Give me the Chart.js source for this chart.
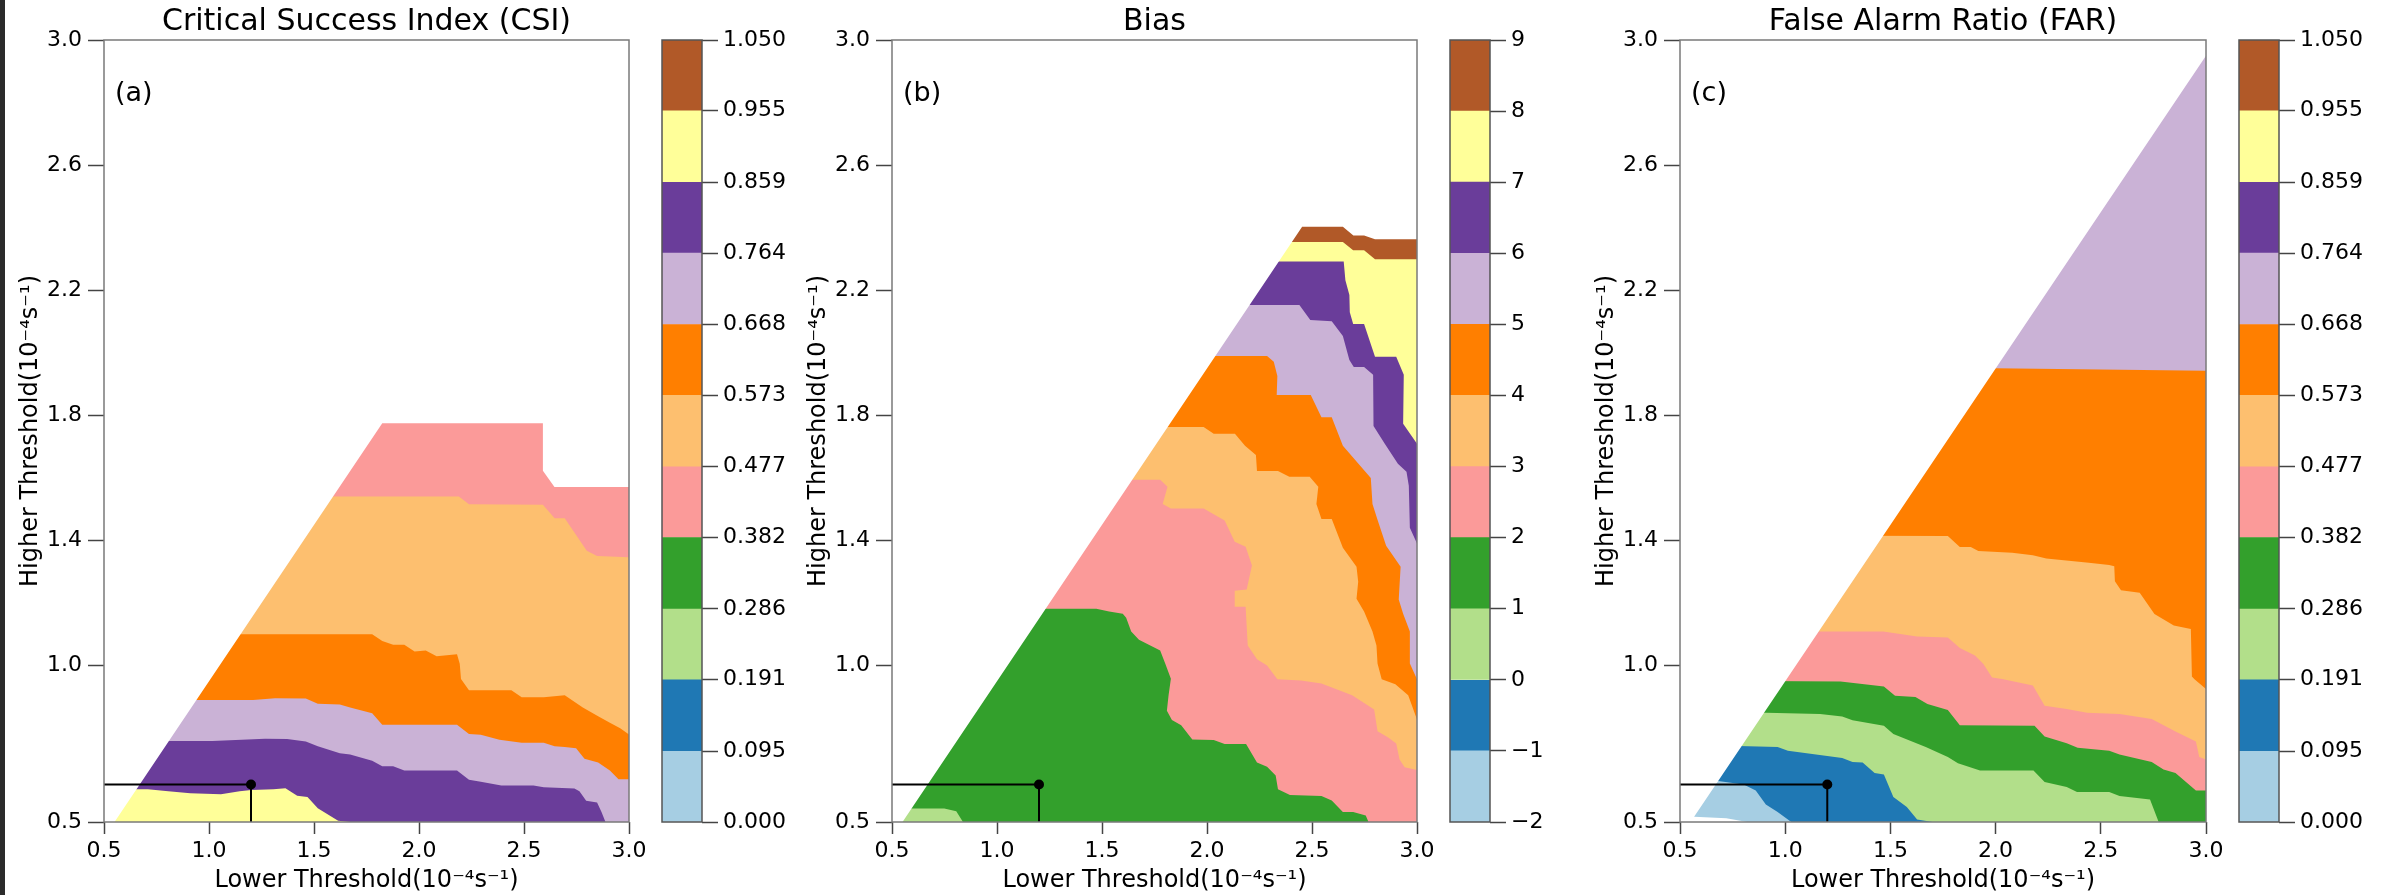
<!DOCTYPE html>
<html lang="en">
<head>
<meta charset="UTF-8">
<title>CSI / Bias / FAR threshold maps</title>
<style>
  body { margin: 0; background: #fff; width: 2387px; height: 895px; overflow: hidden; position: relative; }
  #edge { position: absolute; left: 0; top: 0; width: 5px; height: 895px; background: #2b2b2b; }
  canvas { position: absolute; top: 0; }
</style>
</head>
<body>
<div id="edge"></div>
<canvas id="csi" width="660" height="895" style="left:0px"></canvas>
<canvas id="csiBar" width="140" height="895" style="left:652px"></canvas>
<canvas id="bias" width="660" height="895" style="left:788px"></canvas>
<canvas id="biasBar" width="140" height="895" style="left:1440px"></canvas>
<canvas id="far" width="661" height="895" style="left:1576px"></canvas>
<canvas id="farBar" width="140" height="895" style="left:2229px"></canvas>
<script src="https://cdn.jsdelivr.net/npm/chart.js@4.4.0/dist/chart.umd.min.js"></script>
<script>
// colour bands (matplotlib "Paired", as sampled by the colour bars)
const bandColors = ['#a6cee3', '#1f78b4', '#b2df8a', '#33a02c', '#fb9a99', '#fdbf6f',
                    '#ff7f00', '#cab2d6', '#6a3d9a', '#ffff99', '#b15928']

const scoreLevels = [0, 0.095, 0.191, 0.286, 0.382, 0.477, 0.573, 0.668, 0.764, 0.859, 0.955, 1.05]
const scoreLabels = ['0.000', '0.095', '0.191', '0.286', '0.382', '0.477', '0.573', '0.668', '0.764', '0.859', '0.955', '1.050']
const biasLevels = [-2, -1, 0, 1, 2, 3, 4, 5, 6, 7, 8, 9]
const biasLabels = ['\u22122', '\u22121', '0', '1', '2', '3', '4', '5', '6', '7', '8', '9']

const xTicks = [0.5, 1.0, 1.5, 2.0, 2.5, 3.0]
const yTicks = [0.5, 1.0, 1.4, 1.8, 2.2, 2.6, 3.0]

// chosen threshold pair (lower, higher)
const chosenPoint = [1.2, 0.62]

// ---- CSI contour lines [lower, higher] ----
const csiDomain = [[0.55, 0.5], [1.825, 1.775], [2.59, 1.775], [2.59, 1.623], [2.645, 1.571], [3.0, 1.571]]
const csi0477 = [[3.0, 1.346], [2.848, 1.35], [2.799, 1.367], [2.694, 1.471], [2.646, 1.471], [2.59, 1.514],
  [2.238, 1.516], [2.19, 1.541], [0.5, 1.541]]
const csi0573 = [[3.0, 0.78], [2.958, 0.80], [2.909, 0.817], [2.853, 0.838], [2.78, 0.866], [2.694, 0.905],
  [2.594, 0.899], [2.489, 0.899], [2.44, 0.921], [2.238, 0.921], [2.2, 0.957], [2.194, 1.006], [2.181, 1.036],
  [2.084, 1.03], [2.032, 1.048], [1.979, 1.045], [1.93, 1.067], [1.877, 1.067], [1.825, 1.079], [1.777, 1.10], [0.5, 1.10]]
const csi0668 = [[3.0, 0.637], [2.95, 0.637], [2.909, 0.665], [2.853, 0.69], [2.788, 0.702], [2.748, 0.736],
  [2.694, 0.74], [2.646, 0.742], [2.594, 0.753], [2.489, 0.753], [2.383, 0.763], [2.294, 0.779], [2.238, 0.781],
  [2.181, 0.811], [1.825, 0.811], [1.777, 0.848], [1.672, 0.866], [1.623, 0.876], [1.518, 0.878], [1.461, 0.895],
  [1.315, 0.896], [1.21, 0.890], [0.5, 0.890]]
const csi0764 = [[2.888, 0.5], [2.869, 0.532], [2.848, 0.562], [2.796, 0.568], [2.764, 0.598], [2.74, 0.607],
  [2.594, 0.611], [2.545, 0.617], [2.392, 0.617], [2.294, 0.629], [2.238, 0.635], [2.181, 0.665], [1.93, 0.665],
  [1.877, 0.678], [1.825, 0.678], [1.777, 0.696], [1.672, 0.716], [1.623, 0.72], [1.518, 0.742], [1.461, 0.757],
  [1.372, 0.765], [1.267, 0.766], [1.016, 0.759], [0.5, 0.759]]
const csi0859 = [[1.672, 0.5], [1.615, 0.504], [1.518, 0.544], [1.469, 0.58], [1.42, 0.584], [1.364, 0.608],
  [1.307, 0.605], [1.202, 0.602], [1.146, 0.598], [1.057, 0.589], [0.911, 0.592], [0.806, 0.598], [0.709, 0.605], [0.5, 0.605]]

// ---- Bias contour lines ----
const biasDomain = [[0.55, 0.5], [2.453, 2.403], [2.647, 2.403], [2.697, 2.375], [2.748, 2.375], [2.8, 2.363], [3.0, 2.363]]
const bias1 = [[0.5, 0.543], [0.749, 0.543], [0.806, 0.534], [0.838, 0.5]]
const bias2 = [[0.5, 1.182], [1.473, 1.182], [1.534, 1.173], [1.599, 1.166], [1.615, 1.153], [1.639, 1.109],
  [1.676, 1.083], [1.777, 1.048], [1.801, 1.007], [1.828, 0.958], [1.817, 0.905], [1.809, 0.856], [1.833, 0.826],
  [1.877, 0.809], [1.93, 0.764], [2.032, 0.762], [2.084, 0.749], [2.186, 0.749], [2.238, 0.69], [2.286, 0.677],
  [2.327, 0.649], [2.338, 0.605], [2.395, 0.586], [2.545, 0.583], [2.594, 0.569], [2.647, 0.532], [2.696, 0.532],
  [2.756, 0.521], [2.769, 0.5]]
const bias3 = [[0.5, 1.594], [1.777, 1.594], [1.812, 1.572], [1.789, 1.517], [1.828, 1.502], [1.984, 1.502],
  [2.084, 1.464], [2.132, 1.396], [2.184, 1.38], [2.214, 1.32], [2.189, 1.243], [2.132, 1.239], [2.132, 1.188],
  [2.184, 1.188], [2.194, 1.064], [2.238, 1.02], [2.286, 1.0], [2.335, 0.956], [2.448, 0.952], [2.545, 0.943],
  [2.691, 0.905], [2.796, 0.86], [2.812, 0.79], [2.861, 0.771], [2.901, 0.751], [2.917, 0.70], [2.941, 0.675], [3.0, 0.666]]
const bias4 = [[0.5, 1.763], [1.984, 1.763], [2.032, 1.741], [2.133, 1.741], [2.181, 1.703], [2.233, 1.673],
  [2.238, 1.622], [2.338, 1.622], [2.392, 1.604], [2.489, 1.604], [2.53, 1.572], [2.521, 1.517], [2.545, 1.469],
  [2.594, 1.469], [2.647, 1.377], [2.712, 1.316], [2.72, 1.268], [2.712, 1.214], [2.748, 1.173], [2.788, 1.109],
  [2.807, 1.064], [2.812, 1.007], [2.832, 0.956], [2.897, 0.94], [2.958, 0.905], [3.0, 0.828]]
const bias5 = [[0.5, 1.99], [2.286, 1.99], [2.318, 1.971], [2.335, 1.926], [2.332, 1.865], [2.494, 1.865],
  [2.545, 1.794], [2.594, 1.794], [2.647, 1.703], [2.78, 1.6], [2.788, 1.517], [2.812, 1.466], [2.853, 1.383],
  [2.922, 1.316], [2.913, 1.211], [2.934, 1.166], [2.966, 1.109], [2.966, 1.007], [3.0, 0.956]]
const bias6 = [[0.5, 2.153], [2.44, 2.153], [2.492, 2.105], [2.594, 2.101], [2.647, 2.054], [2.678, 1.977],
  [2.699, 1.955], [2.748, 1.955], [2.791, 1.93], [2.793, 1.766], [2.845, 1.711], [2.909, 1.645], [2.95, 1.62],
  [2.961, 1.575], [2.966, 1.441], [3.0, 1.39]]
const bias7 = [[0.5, 2.292], [2.651, 2.292], [2.659, 2.232], [2.678, 2.185], [2.68, 2.13], [2.696, 2.092],
  [2.748, 2.092], [2.8, 1.987], [2.901, 1.987], [2.937, 1.93], [2.934, 1.773], [3.0, 1.709]]
const bias8 = [[0.5, 2.354], [2.647, 2.354], [2.696, 2.328], [2.748, 2.328], [2.8, 2.299], [3.0, 2.299]]

// ---- FAR contour lines ----
const farDomain = [[0.82, 0.5], [0.72, 0.512], [0.567, 0.517], [3.0, 2.95]]
const far0095 = [[0.5, 0.631], [0.681, 0.631], [0.803, 0.62], [0.86, 0.601], [0.908, 0.556], [0.964, 0.532], [1.029, 0.5]]
const far0191 = [[0.5, 0.748], [0.964, 0.74], [1.013, 0.728], [1.271, 0.705], [1.32, 0.692], [1.368, 0.69],
  [1.425, 0.657], [1.469, 0.652], [1.514, 0.58], [1.578, 0.548], [1.627, 0.508], [1.70, 0.5]]
const far0286 = [[0.5, 0.856], [1.166, 0.845], [1.271, 0.837], [1.32, 0.825], [1.469, 0.808], [1.514, 0.781],
  [1.668, 0.74], [1.773, 0.708], [1.821, 0.688], [1.926, 0.665], [2.18, 0.665], [2.233, 0.628], [2.338, 0.612],
  [2.387, 0.596], [2.54, 0.596], [2.589, 0.583], [2.734, 0.572], [2.775, 0.5]]
const far0382 = [[0.5, 0.952], [1.263, 0.949], [1.469, 0.933], [1.522, 0.904], [1.619, 0.9], [1.676, 0.877],
  [1.773, 0.858], [1.83, 0.809], [2.185, 0.808], [2.233, 0.773], [2.338, 0.752], [2.39, 0.737], [2.54, 0.728],
  [2.589, 0.716], [2.742, 0.692], [2.798, 0.668], [2.855, 0.657], [2.952, 0.601], [3.0, 0.601]]
const far0477 = [[0.5, 1.109], [1.466, 1.109], [1.627, 1.093], [1.773, 1.09], [1.83, 1.056], [1.902, 1.032],
  [1.942, 1.005], [1.983, 0.962], [2.031, 0.957], [2.177, 0.936], [2.233, 0.872], [2.338, 0.861], [2.435, 0.849],
  [2.589, 0.845], [2.742, 0.829], [2.855, 0.789], [2.952, 0.757], [2.968, 0.708], [3.0, 0.70]]
const far0573 = [[0.5, 1.417], [1.773, 1.414], [1.83, 1.379], [1.882, 1.379], [1.918, 1.366], [2.079, 1.361],
  [2.177, 1.353], [2.241, 1.342], [2.443, 1.329], [2.54, 1.322], [2.564, 1.318], [2.567, 1.27], [2.596, 1.241],
  [2.685, 1.233], [2.755, 1.165], [2.847, 1.128], [2.928, 1.117], [2.933, 0.965], [2.944, 0.957], [3.0, 0.925]]
const far0668 = [[0.5, 1.951], [1.999, 1.951], [3.0, 1.943]]

Chart.defaults.font.family = "'DejaVu Sans', sans-serif"
Chart.defaults.font.size = 22
Chart.defaults.color = '#000'

const X0 = xTicks[0], X1 = xTicks[xTicks.length - 1]
const Y0 = yTicks[0], Y1 = yTicks[yTicks.length - 1]
const corners = [[X1, Y0], [X1, Y1], [X0, Y1], [X0, Y0]]

// position of a point on the plot border, counter-clockwise from bottom-left
const perim = ([x, y]) => {
    if (Math.abs(y - Y0) < 1e-9) return (x - X0) / (X1 - X0)
    if (Math.abs(x - X1) < 1e-9) return 1 + (y - Y0) / (Y1 - Y0)
    if (Math.abs(y - Y1) < 1e-9) return 2 + (X1 - x) / (X1 - X0)
    return 3 + (Y1 - y) / (Y1 - Y0)
}

// a contour line runs border to border; close it along the border (region on its left)
const closeShape = (edge) => {
    const te = perim(edge[edge.length - 1])
    let ts = perim(edge[0])
    if (ts <= te) ts += 4
    const pts = edge.slice()
    for (let k = Math.ceil(te); k < ts; k++) {
        if (k > te) pts.push(corners[(k - 1) % 4])
    }
    return pts.map(([x, y]) => ({ x, y }))
}

const panels = [
    { id: 'csi', title: 'Critical Success Index (CSI)', tag: '(a)', base: 4, domain: csiDomain,
      lines: [[5, csi0477], [6, csi0573], [7, csi0668], [8, csi0764], [9, csi0859]] },
    { id: 'bias', title: 'Bias', tag: '(b)', base: 2, domain: biasDomain,
      lines: [[3, bias1], [4, bias2], [5, bias3], [6, bias4], [7, bias5], [8, bias6], [9, bias7], [10, bias8]] },
    { id: 'far', title: 'False Alarm Ratio (FAR)', tag: '(c)', base: 0, domain: farDomain,
      lines: [[1, far0095], [2, far0191], [3, far0286], [4, far0382], [5, far0477], [6, far0573], [7, far0668]] }
]

const framePlugin = {
    id: 'frame',
    afterDatasetsDraw(chart, args, opts) {
        const a = chart.chartArea
        const ctx = chart.ctx
        ctx.save()
        ctx.strokeStyle = opts.color || '#777'
        ctx.lineWidth = 1.5
        ctx.strokeRect(a.left, a.top, a.right - a.left, a.bottom - a.top)
        ctx.restore()
    }
}

const tagPlugin = {
    id: 'tag',
    afterDraw(chart, args, opts) {
        if (!opts.text) return
        const a = chart.chartArea
        const ctx = chart.ctx
        ctx.save()
        ctx.font = "27px 'DejaVu Sans', sans-serif"
        ctx.fillStyle = '#000'
        ctx.textBaseline = 'middle'
        ctx.fillText(opts.text, a.left + 11, a.top + 54)
        ctx.restore()
    }
}

const buildDatasets = (p) => {
    const layers = [{ color: bandColors[p.base], pts: [...corners.slice(3), ...corners.slice(0, 3)].map(([x, y]) => ({ x, y })) }]
    p.lines.forEach(([band, edge]) => layers.push({ color: bandColors[band], pts: closeShape(edge) }))
    layers.push({ color: '#ffffff', pts: closeShape(p.domain) })
    const n = layers.length
    const sets = layers.map((l, i) => ({
        data: l.pts,
        backgroundColor: l.color,
        borderWidth: 0,
        pointRadius: 0,
        fill: 'shape',
        order: n - i + 1
    }))
    sets.push({
        data: [{ x: X0, y: chosenPoint[1] }, { x: chosenPoint[0], y: chosenPoint[1] }, { x: chosenPoint[0], y: Y0 }],
        borderColor: '#000',
        borderWidth: 2,
        pointRadius: [0, 5, 0],
        pointBackgroundColor: '#000',
        pointBorderWidth: 0,
        fill: false,
        order: 0
    })
    return sets
}

panels.forEach(p => {
    new Chart(document.getElementById(p.id), {
        type: 'line',
        data: { datasets: buildDatasets(p) },
        options: {
            responsive: false,
            animation: false,
            devicePixelRatio: 1,
            events: [],
            layout: { padding: { left: 0, right: 31, top: 0, bottom: 0 } },
            plugins: {
                legend: { display: false },
                tooltip: { enabled: false },
                title: {
                    display: true, text: p.title, fullSize: false, color: '#000',
                    font: { size: 30, weight: 'normal', lineHeight: 1.1 },
                    padding: { top: 6, bottom: 1 }
                },
                frame: { color: '#7a7a7a' },
                tag: { text: p.tag }
            },
            scales: {
                x: {
                    type: 'linear', min: X0, max: X1,
                    afterBuildTicks: s => { s.ticks = xTicks.map(v => ({ value: v })) },
                    afterFit: s => { s.height = 73 },
                    ticks: { callback: v => v.toFixed(1), padding: 4, maxRotation: 0, autoSkip: false },
                    grid: { drawOnChartArea: false, tickLength: 12, tickColor: '#444', tickWidth: 1.5 },
                    border: { display: false },
                    title: { display: true, text: 'Lower Threshold(10\u207B\u2074s\u207B\u00B9)', font: { size: 24 }, padding: { top: 0, bottom: 0 } }
                },
                y: {
                    type: 'linear', min: Y0, max: Y1,
                    afterBuildTicks: s => { s.ticks = yTicks.map(v => ({ value: v })) },
                    afterFit: s => { s.width = 104 },
                    ticks: { callback: v => v.toFixed(1), padding: 6, autoSkip: false },
                    grid: { drawOnChartArea: false, tickLength: 16, tickColor: '#444', tickWidth: 1.5 },
                    border: { display: false },
                    title: { display: true, text: 'Higher Threshold(10\u207B\u2074s\u207B\u00B9)', font: { size: 24 }, padding: { top: 16, bottom: 0 } }
                }
            }
        },
        plugins: [framePlugin, tagPlugin]
    })
})

const drawColorbar = (id, levels, labels) => {
    const sets = []
    for (let i = 0; i < levels.length - 1; i++) {
        sets.push({
            data: [[levels[i], levels[i + 1]]],
            backgroundColor: bandColors[i],
            borderWidth: 0,
            grouped: false,
            barPercentage: 1,
            categoryPercentage: 1
        })
    }
    new Chart(document.getElementById(id), {
        type: 'bar',
        data: { labels: [''], datasets: sets },
        options: {
            responsive: false,
            animation: false,
            devicePixelRatio: 1,
            events: [],
            layout: { padding: { left: 10, right: 0, top: 40, bottom: 73 } },
            plugins: {
                legend: { display: false },
                tooltip: { enabled: false },
                frame: { color: '#555' }
            },
            scales: {
                x: { display: false },
                y: {
                    position: 'right', min: levels[0], max: levels[levels.length - 1],
                    afterBuildTicks: s => { s.ticks = levels.map(v => ({ value: v })) },
                    afterFit: s => { s.width = 90 },
                    ticks: { callback: (v, i) => labels[i], padding: 5, autoSkip: false },
                    grid: { drawOnChartArea: false, tickLength: 16, tickColor: '#444', tickWidth: 1.5 },
                    border: { display: false }
                }
            }
        },
        plugins: [framePlugin]
    })
}

drawColorbar('csiBar', scoreLevels, scoreLabels)
drawColorbar('biasBar', biasLevels, biasLabels)
drawColorbar('farBar', scoreLevels, scoreLabels)
</script>
</body>
</html>
